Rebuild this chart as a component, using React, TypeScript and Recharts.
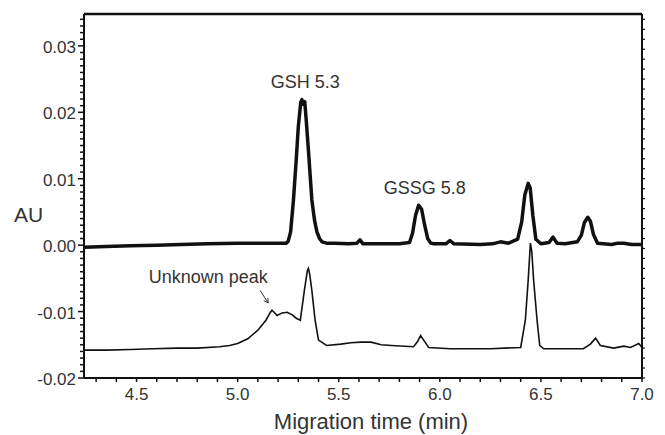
import { LineChart, Line, XAxis, YAxis, ReferenceLine, ReferenceDot } from "recharts";

// upper electropherogram (thick trace)
const topTime = [
  4.24, 4.35, 4.47, 4.6, 4.72, 4.85, 5.0, 5.15, 5.24, 5.25, 5.262, 5.276, 5.29, 5.3, 5.312,
  5.318, 5.325, 5.332, 5.34, 5.35, 5.367, 5.38, 5.392, 5.405, 5.417, 5.44, 5.48, 5.55, 5.59,
  5.605, 5.62, 5.7, 5.8, 5.85, 5.865, 5.88, 5.895, 5.91, 5.925, 5.94, 5.955, 5.97, 6.03, 6.05,
  6.07, 6.2, 6.26, 6.3, 6.34, 6.385, 6.405, 6.42, 6.437, 6.447, 6.46, 6.475, 6.5, 6.54, 6.56,
  6.58, 6.62, 6.68, 6.7, 6.715, 6.732, 6.745, 6.76, 6.78, 6.85, 6.88, 6.91, 6.95, 7.0,
];
const topAU = [
  -0.0003, -0.0002, -0.0001, 0.0, 0.0001, 0.0002, 0.0003, 0.0003, 0.0003, 0.0006, 0.002,
  0.0068, 0.013, 0.0178, 0.0215, 0.0219, 0.0212, 0.0216, 0.0185, 0.0143, 0.0068, 0.0038, 0.002,
  0.001, 0.0005, 0.0003, 0.0003, 0.0002, 0.0003, 0.0008, 0.0002, 0.0002, 0.0002, 0.0004, 0.0018,
  0.0045, 0.006, 0.0054, 0.003, 0.001, 0.0003, 0.0002, 0.0002, 0.0007, 0.0002, 0.0001, 0.0002,
  0.0005, 0.0003, 0.0009, 0.0035, 0.0075, 0.0093, 0.0086, 0.0045, 0.0009, 0.0002, 0.0004,
  0.0012, 0.0003, 0.0002, 0.0005, 0.0015, 0.0034, 0.0042, 0.0036, 0.0016, 0.0003, 0.0001,
  0.0003, 0.0003, 0.0001, 0.0001,
];

// lower electropherogram (thin trace)
const bottomTime = [
  4.24, 4.35, 4.47, 4.58, 4.7, 4.8, 4.91, 4.96, 5.0, 5.05, 5.1, 5.14, 5.16, 5.17, 5.18, 5.195,
  5.22, 5.245, 5.27, 5.29, 5.31, 5.33, 5.345, 5.35, 5.357, 5.367, 5.383, 5.4, 5.44, 5.51, 5.56,
  5.61, 5.66, 5.71, 5.76, 5.87, 5.89, 5.905, 5.92, 5.945, 6.05, 6.25, 6.4, 6.423, 6.437, 6.448,
  6.455, 6.464, 6.481, 6.494, 6.514, 6.71, 6.745, 6.77, 6.794, 6.86, 6.91, 6.943, 6.984, 7.0,
];
const bottomAU = [
  -0.0158, -0.0158, -0.0157, -0.0156, -0.0155, -0.0155, -0.0153, -0.0151, -0.0148, -0.0141,
  -0.0128, -0.0113, -0.0102, -0.0098, -0.0101, -0.0106, -0.0102, -0.0101, -0.0105, -0.011,
  -0.0113, -0.0068, -0.0038, -0.0035, -0.0045, -0.0068, -0.0113, -0.0143, -0.0151, -0.0149,
  -0.0147, -0.0146, -0.0146, -0.015, -0.0151, -0.0153, -0.0145, -0.0136, -0.0143, -0.0154,
  -0.0156, -0.0156, -0.0154, -0.0113, -0.0053, 0.0003, -0.001, -0.0053, -0.0113, -0.0151,
  -0.0156, -0.0156, -0.0149, -0.014, -0.0151, -0.0155, -0.0152, -0.0154, -0.0148, -0.0154,
];

const xMajorTicks = [4.5, 5.0, 5.5, 6.0, 6.5, 7.0];
const yMajorTicks = [-0.02, -0.01, 0.0, 0.01, 0.02, 0.03];

const X_MIN = 4.24;
const X_MAX = 7.0;
const Y_MIN = -0.02;
const Y_MAX = 0.0348;

const topData = topTime.map((t, i) => ({ t, au: topAU[i] }));
const bottomData = bottomTime.map((t, i) => ({ t, au: bottomAU[i] }));

// minor tick positions
const xTicks: number[] = [];
for (let i = 43; i <= 70; i++) xTicks.push(i / 10);
const yTicks: number[] = [];
for (let i = -20; i <= 34; i++) yTicks.push(i / 1000);
const rightTicks: number[] = [];
for (let i = 0; i <= 36; i++) rightTicks.push(Math.round((Y_MIN + i * 0.0015) * 1e5) / 1e5);

const isMajor = (v: number, majors: number[]) => majors.some((m) => Math.abs(m - v) < 1e-9);

const INK = "#111";
const TEXT = "#333";

function LeftTick({ x, y, payload }: any) {
  const major = isMajor(payload.value, yMajorTicks);
  return (
    <g>
      <line x1={x} x2={x - (major ? 6 : 4)} y1={y} y2={y} stroke={INK} strokeWidth={1.5} />
      {major && (
        <text x={x - 8} y={y + 7} textAnchor="end" fontSize={17} fill={TEXT}>
          {payload.value.toFixed(2)}
        </text>
      )}
    </g>
  );
}

function BottomTick({ x, y, payload }: any) {
  const major = isMajor(payload.value, xMajorTicks);
  return (
    <g>
      <line x1={x} x2={x} y1={y} y2={y + 4} stroke={INK} strokeWidth={1.5} />
      {major && (
        <text x={x} y={y + 22} textAnchor="middle" fontSize={17} fill={TEXT}>
          {payload.value.toFixed(1)}
        </text>
      )}
    </g>
  );
}

function RightTick({ x, y }: any) {
  return <line x1={x} x2={x + 3} y1={y} y2={y} stroke={INK} strokeWidth={1.2} />;
}

function Arrow({ x1, y1, x2, y2 }: any) {
  const a = Math.atan2(y2 - y1, x2 - x1);
  const h = 5;
  const p1 = [x2 - h * Math.cos(a - 0.5), y2 - h * Math.sin(a - 0.5)];
  const p2 = [x2 - h * Math.cos(a + 0.5), y2 - h * Math.sin(a + 0.5)];
  return (
    <g stroke={TEXT} strokeWidth={1} fill="none">
      <line x1={x1} y1={y1} x2={x2} y2={y2} />
      <polyline points={`${p1[0]},${p1[1]} ${x2},${y2} ${p2[0]},${p2[1]}`} />
    </g>
  );
}

const labelStyle = { fontSize: 18, fill: TEXT };

export default function App() {
  return (
    <div
      style={{
        position: "absolute",
        left: 0,
        top: 0,
        width: 665,
        height: 435,
        background: "#fff",
        fontFamily: "'Liberation Sans', Arial, sans-serif",
      }}
    >
      <LineChart width={665} height={435} margin={{ top: 14, right: 0, bottom: 0, left: 0 }}>
        <XAxis
          type="number"
          dataKey="t"
          domain={[X_MIN, X_MAX]}
          ticks={xTicks}
          interval={0}
          allowDataOverflow
          height={57}
          tickSize={0}
          tickMargin={0}
          tickLine={false}
          axisLine={{ stroke: INK, strokeWidth: 2 }}
          tick={<BottomTick />}
        />
        <YAxis
          type="number"
          domain={[Y_MIN, Y_MAX]}
          ticks={yTicks}
          interval={0}
          allowDataOverflow
          width={84}
          tickSize={0}
          tickMargin={0}
          tickLine={false}
          axisLine={{ stroke: INK, strokeWidth: 2 }}
          tick={<LeftTick />}
        />
        <YAxis
          yAxisId="right"
          orientation="right"
          type="number"
          domain={[Y_MIN, Y_MAX]}
          ticks={rightTicks}
          interval={0}
          allowDataOverflow
          width={23}
          tickSize={0}
          tickMargin={0}
          tickLine={false}
          axisLine={{ stroke: INK, strokeWidth: 2 }}
          tick={<RightTick />}
        />
        <ReferenceLine y={Y_MAX} stroke={INK} strokeWidth={2.5} />
        <Line
          data={bottomData}
          dataKey="au"
          type="linear"
          stroke={INK}
          strokeWidth={1.6}
          dot={false}
          activeDot={false}
          isAnimationActive={false}
        />
        <Line
          data={topData}
          dataKey="au"
          type="linear"
          stroke={INK}
          strokeWidth={3.5}
          strokeLinejoin="round"
          dot={false}
          activeDot={false}
          isAnimationActive={false}
        />
        <ReferenceDot
          x={5.334}
          y={0.0246}
          r={0}
          fill="none"
          stroke="none"
          label={{ value: "GSH 5.3", position: "center", ...labelStyle }}
        />
        <ReferenceDot
          x={5.926}
          y={0.00867}
          r={0}
          fill="none"
          stroke="none"
          label={{ value: "GSSG 5.8", position: "center", ...labelStyle }}
        />
        <ReferenceDot
          x={4.855}
          y={-0.00475}
          r={0}
          fill="none"
          stroke="none"
          label={{ value: "Unknown peak", position: "center", ...labelStyle }}
        />
        <ReferenceLine
          segment={[
            { x: 5.111, y: -0.0068 },
            { x: 5.151, y: -0.0087 },
          ]}
          shape={<Arrow />}
        />
      </LineChart>
      <div
        style={{
          position: "absolute",
          left: 14,
          top: 204,
          fontSize: 21,
          lineHeight: "21px",
          color: TEXT,
        }}
      >
        AU
      </div>
      <div
        style={{
          position: "absolute",
          left: 0,
          width: 742,
          top: 411,
          textAlign: "center",
          fontSize: 22,
          lineHeight: "22px",
          color: TEXT,
        }}
      >
        Migration time (min)
      </div>
    </div>
  );
}
